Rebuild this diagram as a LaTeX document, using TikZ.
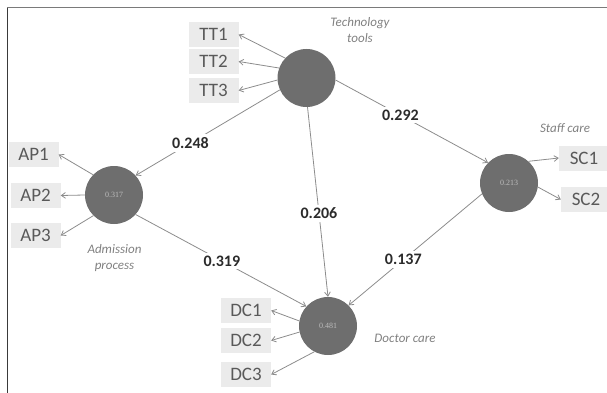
\documentclass[tikz,border=0pt]{standalone}
\usepackage{fontspec}
\setmainfont{Carlito}
\newfontfamily\tinyserif{Liberation Serif}
\usetikzlibrary{arrows.meta}
\definecolor{circfill}{HTML}{6E6E6E}
\definecolor{circtext}{HTML}{BDBDBD}
\definecolor{boxfill}{HTML}{EBEBEB}
\definecolor{boxtext}{HTML}{595959}
\definecolor{labgray}{HTML}{808080}
\definecolor{coeftext}{HTML}{2B2B2B}
\definecolor{linegray}{HTML}{8C8C8C}
\definecolor{framedark}{HTML}{3A3A3A}
\definecolor{frametop}{HTML}{7A7A7A}
\begin{document}
\begin{tikzpicture}[x=1pt,y=-1pt,
  latent/.style={circle, fill=circfill, minimum size=58pt, inner sep=0pt,
    font=\tinyserif\fontsize{8}{9}\selectfont, text=circtext},
  item/.style={fill=boxfill, minimum width=50pt, minimum height=25pt, inner sep=0pt,
    font=\fontsize{19}{20}\selectfont, text=boxtext},
  cname/.style={font=\itshape\fontsize{13}{16.5}\selectfont, text=labgray, align=center},
  coef/.style={font=\bfseries\fontsize{16}{18}\selectfont, text=coeftext, fill=white, inner sep=3pt},
  link/.style={draw=linegray, line width=0.8pt, -{Straight Barb[angle=70:5pt]}}
]
\useasboundingbox (0,0) rectangle (607,393);
% frame
\draw[line width=1pt, draw=framedark] (7.5,393) -- (7.5,7.5);
\draw[line width=1.6pt, draw=frametop] (7,7.5) -- (607,7.5);

% latent variables
\node[latent] (TT) at (306.5,78) {};
\node[latent] (AP) at (114,195) {0.317};
\node[latent] (SC) at (509,183) {0.213};
\node[latent] (DC) at (328,326) {0.481};

% indicators
\node[item] (TT1) at (213.5,34.5) {TT1};
\node[item] (TT2) at (213.5,61.5) {TT2};
\node[item] (TT3) at (213.5,90.5) {TT3};
\node[item] (AP1) at (33.5,154.5) {AP1};
\node[item] (AP2) at (35.5,195.5) {AP2};
\node[item] (AP3) at (35.5,235.5) {AP3};
\node[item] (DC1) at (246,310.5) {DC1};
\node[item] (DC2) at (246,340.5) {DC2};
\node[item] (DC3) at (246,374.5) {DC3};
\node[item] (SC1) at (584,158) {SC1};
\node[item] (SC2) at (586,199.5) {SC2};

% construct names
\node[cname] (nTT) at (360,30) {Technology\\tools};
\node[cname] (nSC) at (565,128) {Staff care};
\node[cname] (nAP) at (114.5,258) {Admission\\process};
\node[cname] (nDC) at (405,338) {Doctor care};

% indicator arrows
\draw[link] (TT.137) -- (TT1.east);
\draw[link] (TT.160) -- (TT2.east);
\draw[link] (TT.184) -- (TT3.east);
\draw[link] (AP.136) -- (AP1.east);
\draw[link] (AP.180) -- (AP2.east);
\draw[link] (AP.225) -- (AP3.east);
\draw[link] (DC.170) -- (DC1.east);
\draw[link] (DC.192) -- (DC2.east);
\draw[link] (DC.242) -- (DC3.east);
\draw[link] (SC.48) -- (SC1.west);
\draw[link] (SC.352) -- (SC2.west);

% structural paths
\draw[link] (TT.204) -- node[coef, pos=0.62] (c1) {0.248} (AP.42);
\draw[link] (TT.356) -- node[coef, pos=0.425] (c2) {0.292} (SC.136);
\draw[link] (TT.272) -- node[coef, pos=0.56] (c3) {0.206} (DC.90);
\draw[link] (AP.318) -- node[coef, pos=0.505] (c4) {0.319} (DC.138);
\draw[link] (SC.202) -- node[coef, pos=0.59] (c5) {0.137} (DC.45);
\end{tikzpicture}
\end{document}
